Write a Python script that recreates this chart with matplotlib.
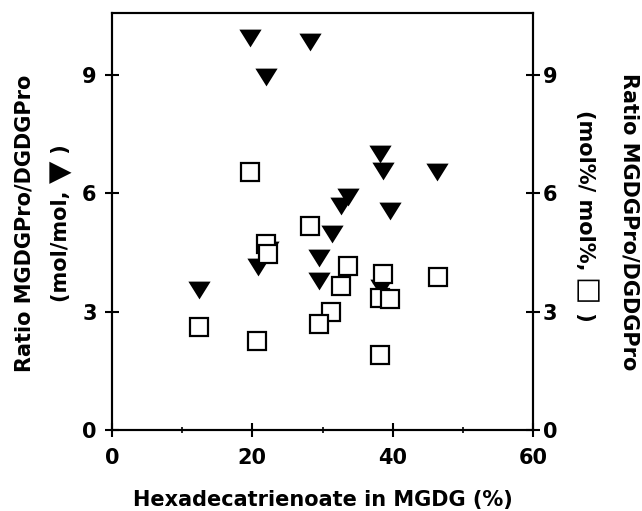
import numpy as np
import matplotlib.pyplot as plt
from matplotlib.ticker import MultipleLocator

# data
# filled triangles: ratio in mol/mol (left axis)
tri_x = [19.6, 28.2, 22.0, 38.2, 38.6, 46.3, 33.7, 32.7, 39.6, 31.3, 22.2, 29.5, 20.8, 29.5, 38.4, 12.4]
tri_y = [9.94, 9.85, 8.94, 7.00, 6.56, 6.54, 5.90, 5.69, 5.54, 4.96, 4.56, 4.37, 4.14, 3.78, 3.61, 3.56]

# open squares: ratio in mol%/mol% (right axis)
sq_x = [19.6, 28.2, 22.0, 22.3, 33.7, 38.6, 46.4, 32.6, 38.2, 39.6, 31.2, 29.5, 12.35, 20.7, 38.2]
sq_y = [6.55, 5.16, 4.72, 4.45, 4.17, 3.96, 3.89, 3.64, 3.35, 3.32, 3.00, 2.70, 2.60, 2.25, 1.89]

xticks = [0, 20, 40, 60]
yticks = [0, 3, 6, 9]

plt.rcParams['font.family'] = ['DejaVu Sans']
plt.rcParams['font.weight'] = 'bold'

fig = plt.figure(figsize=(6.42, 5.11), dpi=100)
ax = fig.add_axes([112 / 642, 1 - 430 / 511, (533 - 112) / 642, (430 - 13.5) / 511])
ax2 = ax.twinx()

# triangle a bit wider than tall
tri_marker = [(-1, 0.8), (1, 0.8), (0, -0.8), (-1, 0.8)]

ax.plot(tri_x, tri_y, linestyle='none', marker=tri_marker, ms=16,
        color='black', markeredgewidth=0, zorder=3)
ax2.plot(sq_x, sq_y, linestyle='none', marker='s', ms=13, mfc='white',
         mec='black', mew=1.6, zorder=4)

for a in (ax, ax2):
    a.set_xlim(0, 60)
    a.set_ylim(0, 10.56)
    a.set_yticks(yticks)
    for s in a.spines.values():
        s.set_linewidth(1.5)

ax.set_xticks(xticks)
ax.xaxis.set_minor_locator(MultipleLocator(10))
ax.tick_params(axis='x', which='major', direction='inout', length=10, width=1.5,
               pad=8, labelsize=15, top=False)
ax.tick_params(axis='x', which='minor', direction='inout', length=5, width=1.2, top=False)
ax.tick_params(axis='y', which='major', direction='inout', length=10, width=1.5,
               pad=6, labelsize=15)
ax2.tick_params(axis='y', which='major', direction='inout', length=10, width=1.5,
                pad=2, labelsize=15)

for lab in ax.get_xticklabels() + ax.get_yticklabels() + ax2.get_yticklabels():
    lab.set_fontweight('bold')

ax.set_xlabel('Hexadecatrienoate in MGDG (%)', fontsize=15, fontweight='bold', labelpad=16)

# y labels, first lines
fig.text(25 / 642, 1 - 223 / 511, 'Ratio MGDGPro/DGDGPro', rotation=90,
         ha='center', va='center', fontsize=15, fontweight='bold')
fig.text(629 / 642, 1 - 222 / 511, 'Ratio MGDGPro/DGDGPro', rotation=-90,
         ha='center', va='center', fontsize=15, fontweight='bold')

# second lines, chained so the symbols can be drawn larger
l1 = fig.text(61 / 642, 1 - 302 / 511, '(mol/mol, ', rotation=90, ha='center',
              va='bottom', fontsize=15, fontweight='bold')
l2 = ax.annotate('\u25bc', xy=(0.5, 1), xycoords=l1, rotation=90, ha='center',
                 va='bottom', fontsize=21, fontweight='bold', annotation_clip=False)
l3 = ax.annotate(' )', xy=(0.5, 1), xycoords=l2, rotation=90, ha='center',
                 va='bottom', fontsize=15, fontweight='bold', annotation_clip=False)

r1 = fig.text(585 / 642, 1 - 110 / 511, '(mol%/ mol%, ', rotation=-90, ha='center',
              va='top', fontsize=15, fontweight='bold')
r2 = ax.annotate('\u25a1', xy=(0.5, 0), xycoords=r1, rotation=-90, ha='center',
                 va='top', fontsize=21, fontweight='bold', annotation_clip=False)
r3 = ax.annotate(' )', xy=(0.5, 0), xycoords=r2, rotation=-90, ha='center',
                 va='top', fontsize=15, fontweight='bold', annotation_clip=False)

plt.savefig('out.png', dpi=100, facecolor='white')
